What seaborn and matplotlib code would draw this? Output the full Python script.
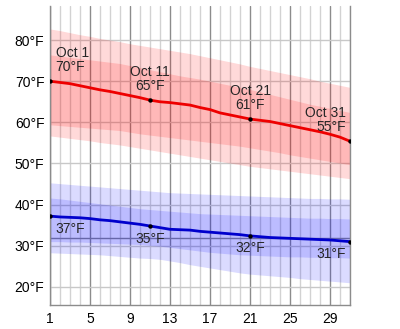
import numpy as np
import pandas as pd
import matplotlib
matplotlib.use("Agg")
import matplotlib.pyplot as plt
import seaborn as sns

days = list(range(1, 32))

high_mean = [70.0, 69.7, 69.4, 68.9, 68.4, 67.9, 67.5, 67.0, 66.5, 66.0, 65.4, 65.0, 64.8, 64.5, 64.2, 63.6,
             63.1, 62.3, 61.8, 61.3, 60.8, 60.5, 60.2, 59.7, 59.2, 58.7, 58.2, 57.7, 57.1, 56.4, 55.4]
high_p90 = [82.7, 82.3, 81.8, 81.3, 80.9, 80.4, 80.0, 79.6, 79.1, 78.7, 78.3, 77.9, 77.5, 77.1, 76.7, 76.2,
            75.7, 75.2, 74.7, 74.2, 73.6, 73.1, 72.6, 72.1, 71.6, 71.1, 70.6, 70.0, 69.5, 69.0, 68.5]
high_p75 = [76.4, 76.1, 75.8, 75.5, 75.2, 74.9, 74.6, 74.3, 73.8, 73.3, 72.8, 72.3, 71.8, 71.3, 70.9, 70.5,
            70.0, 69.5, 69.0, 68.5, 68.0, 67.4, 66.8, 66.2, 65.6, 65.0, 64.4, 63.9, 63.4, 62.9, 62.4]
high_p25 = [59.4, 59.2, 59.0, 58.8, 58.6, 58.4, 58.2, 58.0, 57.6, 57.2, 56.9, 56.6, 56.3, 56.0, 55.7, 55.4,
            55.1, 54.8, 54.5, 54.2, 53.8, 53.4, 53.0, 52.6, 52.1, 51.7, 51.3, 50.9, 50.5, 50.1, 49.7]
high_p10 = [56.7, 56.4, 56.1, 55.8, 55.5, 55.1, 54.8, 54.5, 54.1, 53.7, 53.3, 52.9, 52.5, 52.1, 51.7, 51.3,
            50.9, 50.5, 50.1, 49.7, 49.3, 49.0, 48.7, 48.4, 48.1, 47.8, 47.5, 47.2, 46.9, 46.6, 46.3]

low_mean = [37.2, 37.0, 36.9, 36.8, 36.6, 36.3, 36.1, 35.8, 35.5, 35.2, 34.8, 34.4, 34.0, 33.9, 33.8, 33.5,
            33.3, 33.1, 32.9, 32.7, 32.4, 32.2, 32.0, 31.9, 31.8, 31.7, 31.6, 31.5, 31.4, 31.2, 31.0]
low_p90 = [45.3, 45.1, 44.9, 44.7, 44.5, 44.3, 44.1, 43.9, 43.7, 43.5, 43.3, 43.1, 42.9, 42.8, 42.7, 42.6,
           42.5, 42.4, 42.3, 42.2, 42.1, 42.0, 41.9, 41.8, 41.7, 41.6, 41.5, 41.5, 41.4, 41.4, 41.3]
low_p75 = [41.6, 41.4, 41.1, 40.8, 40.5, 40.2, 39.9, 39.6, 39.3, 39.0, 38.8, 38.6, 38.4, 38.2, 38.0, 37.8,
           37.7, 37.6, 37.5, 37.4, 37.3, 37.2, 37.1, 37.0, 36.9, 36.8, 36.7, 36.7, 36.6, 36.6, 36.5]
low_p25 = [31.0, 31.0, 30.9, 30.9, 30.8, 30.7, 30.6, 30.5, 30.4, 30.3, 30.1, 29.9, 29.6, 29.3, 29.0, 28.7,
           28.4, 28.2, 28.0, 27.8, 27.7, 27.6, 27.5, 27.4, 27.3, 27.3, 27.2, 27.2, 27.1, 27.1, 27.0]
low_p10 = [28.3, 28.2, 28.1, 28.0, 27.9, 27.8, 27.6, 27.4, 27.2, 27.0, 26.9, 26.7, 26.3, 25.9, 25.4, 25.0,
           24.6, 24.2, 23.8, 23.4, 23.1, 22.9, 22.7, 22.5, 22.3, 22.0, 21.8, 21.6, 21.4, 21.2, 21.0]

x_ticks = [1, 5, 9, 13, 17, 21, 25, 29]
y_ticks = [20, 30, 40, 50, 60, 70, 80]
label_days = [1, 11, 21, 31]

sns.set_style("white")
plt.rcParams['font.family'] = ['Liberation Sans', 'DejaVu Sans']

df = pd.DataFrame({"day": days, "high": high_mean, "low": low_mean})

fig = plt.figure(figsize=(4.0, 3.29), dpi=100)
ax = fig.add_axes([0.125, 0.073, 0.75, 0.909])

# grid
for d in days:
    major = d in x_ticks
    ax.axvline(d, color="#8c8c8c" if major else "#d2d2d2", lw=1.0, zorder=0)
for t in y_ticks:
    ax.axhline(t, color="#c8c8c8", lw=1.0, zorder=0)
ax.axhline(32, color="#8c8c8c", lw=1.0, zorder=0)

# bands
ax.fill_between(days, high_p10, high_p90, color="#ff0000", alpha=0.15, lw=0, zorder=1)
ax.fill_between(days, high_p25, high_p75, color="#ff0000", alpha=0.15, lw=0, zorder=1)
ax.fill_between(days, low_p10, low_p90, color="#0000ff", alpha=0.14, lw=0, zorder=1)
ax.fill_between(days, low_p25, low_p75, color="#0000ff", alpha=0.14, lw=0, zorder=1)

sns.lineplot(data=df, x="day", y="high", color="#ee0000", lw=2.0, ax=ax, zorder=3)
sns.lineplot(data=df, x="day", y="low", color="#0000cc", lw=2.0, ax=ax, zorder=3)

lab = df[df["day"].isin(label_days)]
sns.scatterplot(data=lab, x="day", y="high", color="black", s=10, ax=ax, zorder=4, linewidth=0)
sns.scatterplot(data=lab, x="day", y="low", color="black", s=10, ax=ax, zorder=4, linewidth=0)

fs = 10
for d, h, l in zip(lab["day"], lab["high"], lab["low"]):
    if d == 1:
        ha, dx = "left", 4
    elif d == 31:
        ha, dx = "right", -3
    else:
        ha, dx = "center", 0
    ax.annotate(f"Oct {d}\n{round(h):.0f}°F", (d, h), xytext=(dx, 5), textcoords="offset points",
                ha=ha, va="bottom", fontsize=fs, multialignment=ha, linespacing=1.0, zorder=5)
    ax.annotate(f"{round(l):.0f}°F", (d, l), xytext=(dx, -4), textcoords="offset points",
                ha=ha, va="top", fontsize=fs, zorder=5)

ax.set_xlim(1, 31)
ax.set_ylim(15.6, 88.3)
ax.set_xticks(x_ticks)
ax.set_xticklabels([str(t) for t in x_ticks])
ax.set_yticks(y_ticks)
ax.set_yticklabels([f"{t}°F" for t in y_ticks])
ax.tick_params(axis="both", length=0, labelsize=fs, colors="black")
ax.tick_params(axis="x", pad=5)
ax.tick_params(axis="y", pad=4)
ax.set_xlabel("")
ax.set_ylabel("")
for s in ["left", "bottom", "right"]:
    ax.spines[s].set_color("#8c8c8c")
    ax.spines[s].set_linewidth(1.0)
ax.spines["top"].set_visible(False)

fig.savefig("out.png", dpi=100)
